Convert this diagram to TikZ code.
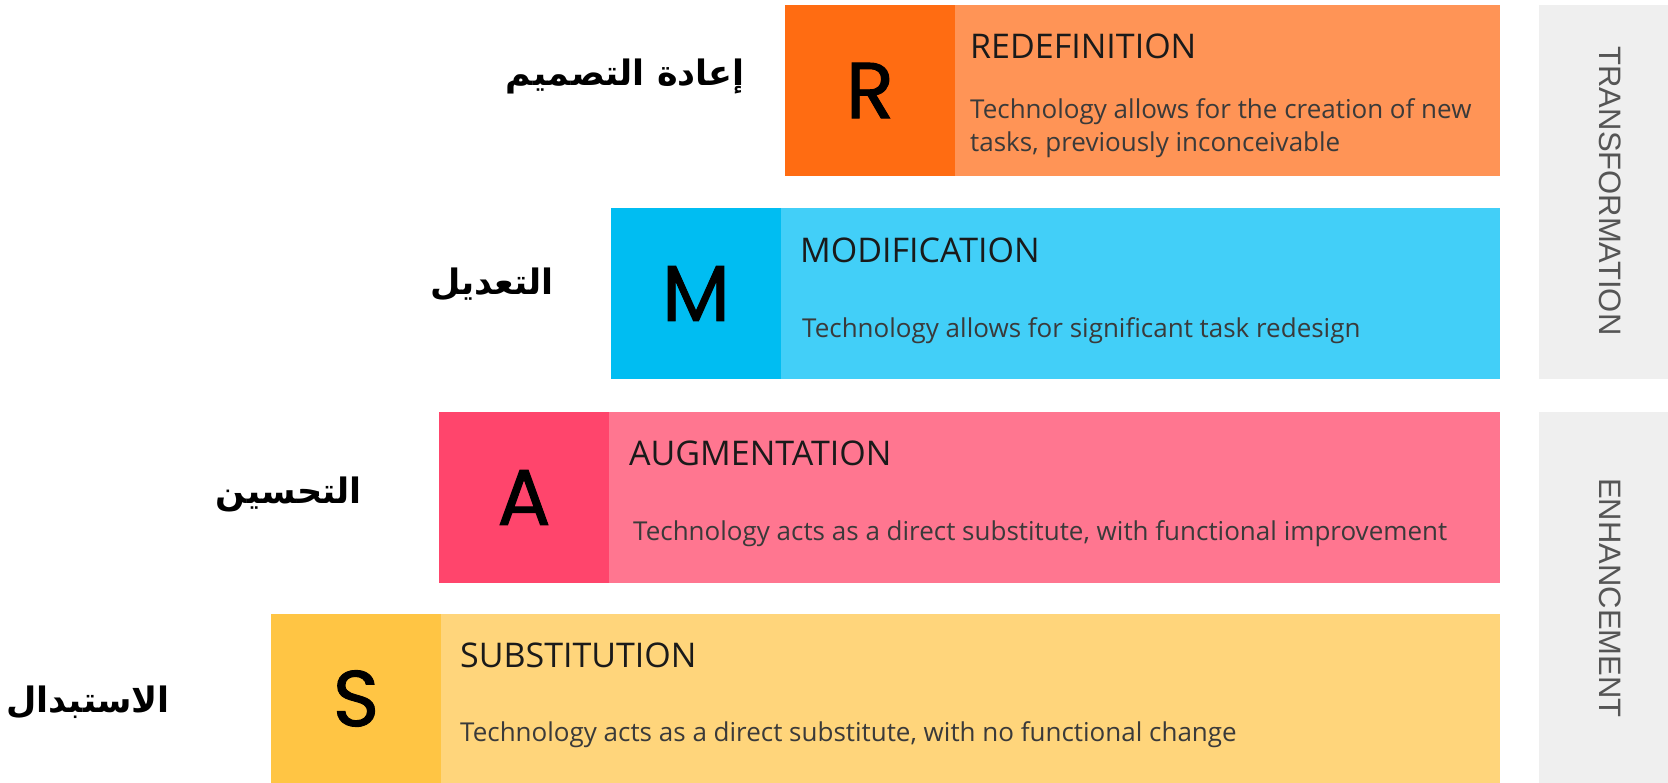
\documentclass[tikz,border=0pt]{standalone}
\usepackage{fontspec}
\usepackage{graphicx}
\setmainfont{Open Sans}
\newfontfamily\arabicfont[Script=Arabic]{DejaVu Sans}
\newfontfamily\letterfont[FakeBold=1.2]{Poppins}
\newfontfamily\sidefont{Liberation Sans}
\TeXXeTstate=1
\definecolor{rdark}{HTML}{FF6C12}
\definecolor{rlight}{HTML}{FF9456}
\definecolor{mdark}{HTML}{00BDF2}
\definecolor{mlight}{HTML}{42CFF8}
\definecolor{adark}{HTML}{FF456C}
\definecolor{alight}{HTML}{FF7690}
\definecolor{sdark}{HTML}{FFC544}
\definecolor{slight}{HTML}{FFD57B}
\definecolor{sidegray}{HTML}{EFEFEF}
\definecolor{titlecol}{HTML}{1A1A1A}
\definecolor{desccol}{HTML}{3A3A3A}
\definecolor{sidecol}{HTML}{555555}
\begin{document}
\begin{tikzpicture}[x=1pt,y=-1pt,
  bar/.style={rectangle, inner sep=0pt, outer sep=0pt, draw=none, anchor=north west, minimum height=171pt},
  keybox/.style={bar, minimum width=170pt, font=\letterfont\fontsize{79}{79}\selectfont, text=black},
  titletext/.style={anchor=base west, inner sep=0pt, font=\fontsize{34}{34}\selectfont, text=titlecol},
  desctext/.style={anchor=base west, inner sep=0pt, align=left, font=\fontsize{26}{33}\selectfont, text=desccol},
  arlabel/.style={anchor=east, inner sep=0pt, font=\arabicfont\bfseries\fontsize{35}{35}\selectfont, text=black},
  sidebox/.style={rectangle, inner sep=0pt, draw=none, fill=sidegray, anchor=north west, minimum width=129pt},
  sidetext/.style={inner sep=0pt, rotate=-90, font=\sidefont\fontsize{31}{31}\selectfont, text=sidecol}
]
\useasboundingbox (0,0) rectangle (1668,783);
% side panels
\node[sidebox, minimum height=374pt] (trans) at (1539,5) {};
\node[sidebox, minimum height=371pt] (enh) at (1539,412) {};
\node[sidetext] (transtxt) at (1610,191) {TRANSFORMATION};
\node[sidetext] (enhtxt) at (1610,598) {ENHANCEMENT};
% R
\node[bar, fill=rlight, minimum width=715pt] (rbar) at (785,5) {};
\node[keybox, fill=rdark] (rkey) at (785,5) {R};
\node[titletext] (rtitle) at (970,58.5) {REDEFINITION};
\node[desctext] (rdesc) at (970,152) {Technology allows for the creation of new\\tasks, previously inconceivable};
% M
\node[bar, fill=mlight, minimum width=889pt] (mbar) at (611,208) {};
\node[keybox, fill=mdark] (mkey) at (611,208) {M};
\node[titletext] (mtitle) at (800,263) {MODIFICATION};
\node[desctext] (mdesc) at (802,338) {Technology allows for significant task redesign};
% A
\node[bar, fill=alight, minimum width=1061pt] (abar) at (439,412) {};
\node[keybox, fill=adark] (akey) at (439,412) {A};
\node[titletext] (atitle) at (629,465) {AUGMENTATION};
\node[desctext] (adesc) at (633,540) {Technology acts as a direct substitute, with functional improvement};
% S
\node[bar, fill=slight, minimum width=1229pt, minimum height=169pt] (sbar) at (271,614) {};
\node[keybox, fill=sdark, minimum height=169pt] (skey) at (271,614) {S};
\node[titletext] (stitle) at (460,667) {SUBSTITUTION};
\node[desctext] (sdesc) at (460,741) {Technology acts as a direct substitute, with no functional change};
% Arabic labels
\node[arlabel] (rar) at (745,76) {\beginR إعادة التصميم\endR};
\node[arlabel] (mar) at (554,284) {\beginR التعديل\endR};
\node[arlabel] (aar) at (362,494) {\beginR التحسين\endR};
\node[arlabel] (sar) at (170,702) {\beginR الاستبدال\endR};
\end{tikzpicture}
\end{document}
